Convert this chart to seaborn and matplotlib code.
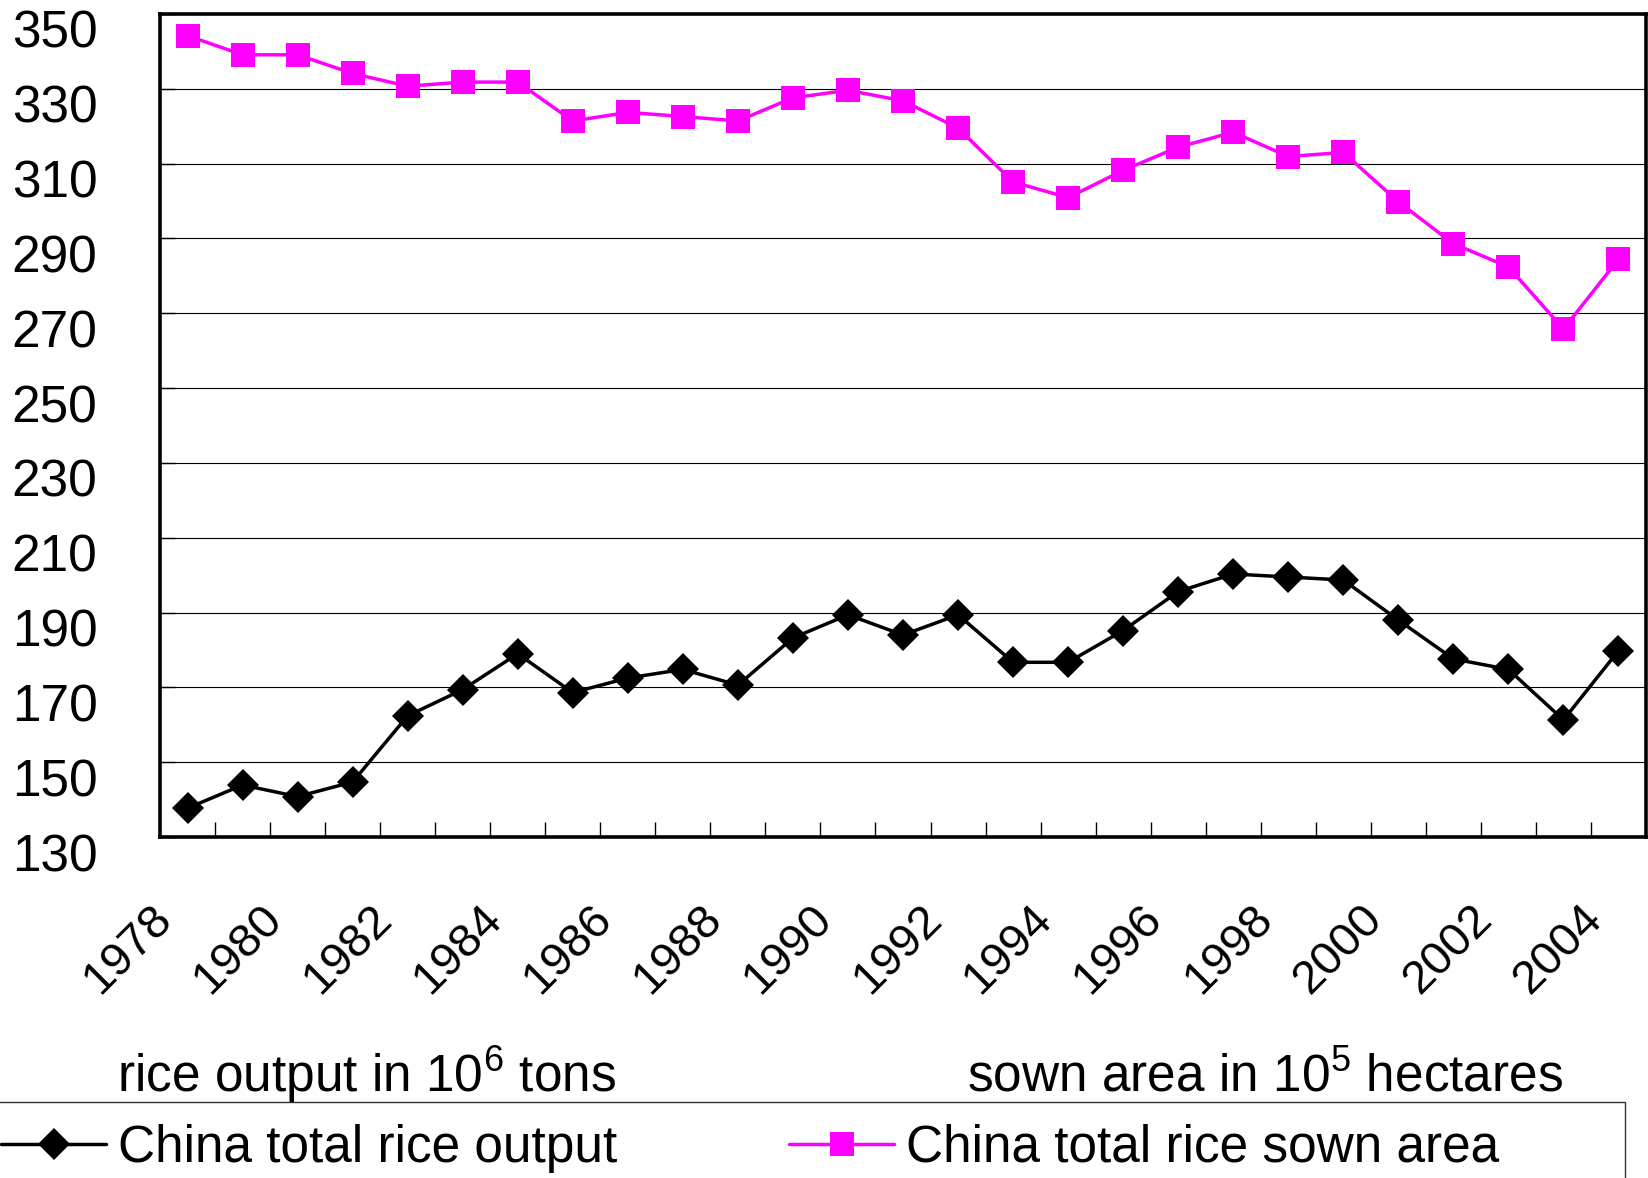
import numpy as np
import pandas as pd
import seaborn as sns
import matplotlib
matplotlib.use("Agg")
import matplotlib.pyplot as plt
from matplotlib.transforms import ScaledTranslation
from matplotlib.patches import Rectangle

years = list(range(1978, 2005))
rice_output = [137.7, 143.9, 140.8, 144.7, 162.4, 169.4, 179.0, 168.6, 172.5, 174.8,
               170.6, 183.2, 189.4, 184.0, 189.4, 176.7, 176.7, 185.2, 195.6, 200.3,
               199.5, 198.7, 188.0, 177.6, 174.8, 161.3, 179.8]
sown_area = [344.2, 339.1, 339.1, 334.1, 330.7, 331.8, 331.8, 321.4, 323.7, 322.6,
             321.4, 327.6, 329.6, 326.8, 319.5, 305.1, 300.9, 308.2, 314.4, 318.4,
             311.9, 313.0, 299.8, 288.6, 282.4, 265.8, 284.4]
y_ticks = list(range(130, 351, 20))
x_label_years = list(range(1978, 2005, 2))
series_names = ["China total rice output", "China total rice sown area"]
left_note = "rice output in 10$^{6}$ tons"
right_note = "sown area in 10$^{5}$ hectares"

sns.set_style("white")
FONT = ["Liberation Sans", "DejaVu Sans"]
plt.rcParams["font.family"] = FONT
plt.rcParams["mathtext.fontset"] = "custom"
plt.rcParams["mathtext.rm"] = "Liberation Sans"
plt.rcParams["mathtext.default"] = "regular"
plt.rcParams["text.color"] = "black"
plt.rcParams["xtick.color"] = "black"
plt.rcParams["ytick.color"] = "black"
plt.rcParams["axes.labelcolor"] = "black"
FS = 37
XFS = 34

W, H = 1648, 1178
fig = plt.figure(figsize=(W / 100, H / 100), dpi=100)
ax = fig.add_axes([160 / W, 1 - 837 / H, (1646 - 160) / W, (837 - 14) / H])

df = pd.DataFrame({"year": years, "output": rice_output, "area": sown_area})

sns.lineplot(data=df, x="year", y="area", ax=ax, color="#FF00FF",
             marker="s", label=series_names[1], zorder=3)
sns.lineplot(data=df, x="year", y="output", ax=ax, color="black",
             marker="D", label=series_names[0], zorder=3)

line_area, line_out = ax.lines[0], ax.lines[1]
line_area.set_linewidth(2.5)
line_area.set_markersize(17)
line_area.set_markeredgewidth(0)
line_area.set_markerfacecolor("#FF00FF")
line_out.set_linewidth(2.5)
line_out.set_markersize(16)
line_out.set_markeredgewidth(0)
line_out.set_markerfacecolor("black")

ax.set_xlim(years[0] - 0.5, years[-1] + 0.5)
ax.set_ylim(130, 350)
ax.set_xlabel("")
ax.set_ylabel("")

# y axis
ax.set_yticks(y_ticks)
ax.set_yticklabels([str(v) for v in y_ticks], fontsize=FS)
ax.tick_params(axis="y", direction="in", length=11, width=1, pad=45, left=True)
ax.yaxis.grid(True, color="black", lw=0.8)

# x axis
ax.set_xticks(x_label_years)
ax.set_xticklabels([str(y) for y in x_label_years], fontsize=XFS, rotation=45,
                   ha="right", va="top")
ax.tick_params(axis="x", which="major", length=0, pad=43)
ax.set_xticks([y + 0.5 for y in years[:-1]], minor=True)
ax.tick_params(axis="x", which="minor", direction="in", length=11, width=1,
               bottom=True)

for s in ax.spines.values():
    s.set_visible(True)
    s.set_color("black")
    s.set_linewidth(2.6)

leg = ax.get_legend()
if leg is not None:
    leg.remove()

fig.canvas.draw()
for lab in ax.get_yticklabels():
    lab.set_transform(lab.get_transform() + ScaledTranslation(0, -0.15, fig.dpi_scale_trans))
for lab in ax.get_xticklabels():
    lab.set_transform(lab.get_transform() + ScaledTranslation(-0.07, 0, fig.dpi_scale_trans))

# notes
fig.text(367 / W, 1 - 1092 / H, left_note, fontsize=FS, va="baseline", ha="center")
fig.text(1265 / W, 1 - 1092 / H, right_note, fontsize=FS, va="baseline", ha="center")

# legend
handles, labels = ax.get_legend_handles_labels()
order = [labels.index(n) for n in series_names]
lg = fig.legend([handles[i] for i in order], [labels[i] for i in order],
                loc="upper left", bbox_to_anchor=(-17 / W, 1 - 1106 / H),
                bbox_transform=fig.transFigure, ncol=2,
                fontsize=FS, frameon=False, borderaxespad=0,
                borderpad=0.35, handlelength=2.05, handletextpad=0.22,
                columnspacing=3.35)
fig.patches.append(Rectangle((-5 / W, 1 - 1230 / H), 1630 / W, 128 / H,
                             transform=fig.transFigure, fill=False,
                             edgecolor="#333333", linewidth=1.0, zorder=0))

fig.savefig("out.png", dpi=100)
